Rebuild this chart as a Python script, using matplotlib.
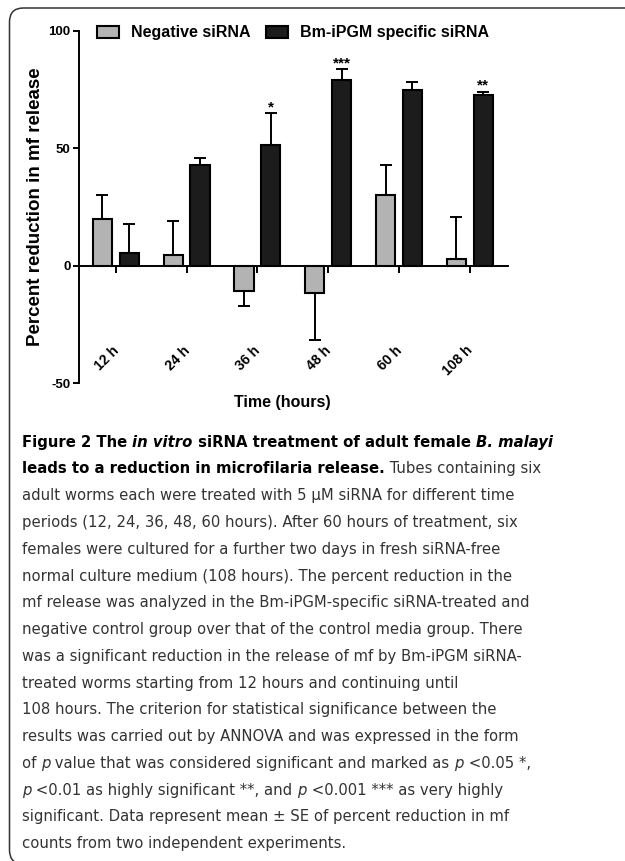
import matplotlib
matplotlib.use('Agg')
import matplotlib.pyplot as plt
from matplotlib import font_manager
from matplotlib.font_manager import FontProperties
from matplotlib.textpath import TextPath
from matplotlib.patches import Patch, FancyBboxPatch
from matplotlib.transforms import IdentityTransform

times = ['12 h', '24 h', '36 h', '48 h', '60 h', '108 h']
negative = [20, 4.5, -11, -11.5, 30, 3]
negative_err = [10, 14.5, 6, 20.3, 12.8, 17.8]
specific = [5.3, 42.9, 51.6, 79.2, 74.9, 72.6]
specific_err = [12.6, 3, 13.4, 4.7, 3.3, 1.6]
stars = ['', '', '*', '***', '', '**']

# caption lines: (text, weight, style)
B, R = 'bold', 'normal'
caption = [
    [('Figure 2 The ', B, R), ('in vitro', B, 'italic'), (' siRNA treatment of adult female ', B, R), ('B. malayi', B, 'italic')],
    [('leads to a reduction in microfilaria release.', B, R), (' Tubes containing six', R, R)],
    [('adult worms each were treated with 5 \u03bcM siRNA for different time', R, R)],
    [('periods (12, 24, 36, 48, 60 hours). After 60 hours of treatment, six', R, R)],
    [('females were cultured for a further two days in fresh siRNA-free', R, R)],
    [('normal culture medium (108 hours). The percent reduction in the', R, R)],
    [('mf release was analyzed in the Bm-iPGM-specific siRNA-treated and', R, R)],
    [('negative control group over that of the control media group. There', R, R)],
    [('was a significant reduction in the release of mf by Bm-iPGM siRNA-', R, R)],
    [('treated worms starting from 12 hours and continuing until', R, R)],
    [('108 hours. The criterion for statistical significance between the', R, R)],
    [('results was carried out by ANNOVA and was expressed in the form', R, R)],
    [('of ', R, R), ('p', R, 'italic'), (' value that was considered significant and marked as ', R, R), ('p', R, 'italic'), (' <0.05 *,', R, R)],
    [('p', R, 'italic'), (' <0.01 as highly significant **, and ', R, R), ('p', R, 'italic'), (' <0.001 *** as very highly', R, R)],
    [('significant. Data represent mean \u00b1 SE of percent reduction in mf', R, R)],
    [('counts from two independent experiments.', R, R)],
]

W, H = 625, 861
plt.rcParams['font.family'] = ['Liberation Sans', 'DejaVu Sans']
plt.rcParams['axes.unicode_minus'] = False
fig = plt.figure(figsize=(W / 100, H / 100), dpi=100)

# axes placed in pixels
left, right, top, bottom = 79, 508, 31, 383
ax = fig.add_axes([left / W, 1 - bottom / H, (right - left) / W, (bottom - top) / H])

x = list(range(len(times)))
bw = 0.27
off = 0.19
grey = '#b3b3b3'
dark = '#1c1c1c'

ax.bar([i - off for i in x], negative, bw, color=grey, edgecolor='black', linewidth=1.5, zorder=2)
ax.bar([i + off for i in x], specific, bw, color=dark, edgecolor='black', linewidth=1.5, zorder=2)

def one_sided(vals, errs):
    lo = [e if v < 0 else 0 for v, e in zip(vals, errs)]
    hi = [0 if v < 0 else e for v, e in zip(vals, errs)]
    return [lo, hi]

ax.errorbar([i - off for i in x], negative, yerr=one_sided(negative, negative_err), fmt='none',
            ecolor='black', elinewidth=1.4, capsize=4.3, capthick=1.4, zorder=1)
ax.errorbar([i + off for i in x], specific, yerr=one_sided(specific, specific_err), fmt='none',
            ecolor='black', elinewidth=1.4, capsize=4.3, capthick=1.4, zorder=1)

for i, s in enumerate(stars):
    if s:
        ax.annotate(s, (i + off, specific[i] + specific_err[i]), xytext=(0, -1),
                    textcoords='offset points', ha='center', va='bottom',
                    fontsize=11, fontweight='bold')

ax.set_xlim(-0.52, 5.54)
ax.set_ylim(-50, 100)
ax.set_yticks([-50, 0, 50, 100])
ax.spines['top'].set_visible(False)
ax.spines['right'].set_visible(False)
ax.spines['bottom'].set_position(('data', 0))
for sp in ['left', 'bottom']:
    ax.spines[sp].set_linewidth(1.4)
ax.tick_params(axis='y', length=4.5, width=1.4, pad=1.5, labelsize=9.5)
ax.tick_params(axis='x', length=5, width=1.4, labelbottom=False)
ax.set_xticks(x)
for lab in ax.get_yticklabels():
    lab.set_fontweight('bold')

for i, t in enumerate(times):
    ax.text(i + 0.08, -33, t, rotation=45, ha='right', va='top',
            fontsize=10, fontweight='bold')

ax.set_ylabel('Percent reduction in mf release', fontsize=13.5, fontweight='bold')
ax.yaxis.set_label_coords(-0.082, 0.5)
ax.set_xlabel('Time (hours)', fontsize=11.5, fontweight='bold')
ax.xaxis.set_label_coords(0.473, -0.033)

handles = [Patch(facecolor=grey, edgecolor='black', linewidth=1.5),
           Patch(facecolor=dark, edgecolor='black', linewidth=1.5)]
fig.legend(handles, ['Negative siRNA', 'Bm-iPGM specific siRNA'], loc='center left',
           bbox_to_anchor=(97 / W, 1 - 33 / H), ncol=2, frameon=False, borderpad=0,
           borderaxespad=0, handlelength=1.35, handleheight=0.75, handletextpad=0.75,
           columnspacing=1.0, prop={'weight': 'bold', 'size': 11.5})

# border of the figure panel
box = FancyBboxPatch((9.5, -3), 700, H - 8 + 3, boxstyle='round,pad=0,rounding_size=14',
                     facecolor='none', edgecolor='#333333', linewidth=1.1,
                     transform=IdentityTransform())
fig.patches.append(box)

# caption font: narrowest available sans relative to its x-height
fonts = font_manager.fontManager.ttflist
names = {f.name for f in fonts}
cands = []
for fam in ['Liberation Sans Narrow', 'Roboto', 'Lato', 'Liberation Sans', 'Noto Sans']:
    if fam in names:
        cands.append(FontProperties(family=fam))
if any(f.name == 'DejaVu Sans' and f.stretch == 'condensed' for f in fonts):
    cands.append(FontProperties(family='DejaVu Sans', stretch='condensed'))

sample = caption[2][0][0]
def ratio(fp):
    w = TextPath((0, 0), sample, size=10, prop=fp).get_extents().width
    xh = TextPath((0, 0), 'x', size=10, prop=fp).get_extents().height
    return w / xh, xh / 10
scores = [(ratio(fp), fp) for fp in cands]
(best_ratio, xh_em), cap_fp = min(scores, key=lambda s: s[0][0])

renderer = fig.canvas.get_renderer()

def seg_width(text, weight, style, size):
    kw = dict(family=cap_fp.get_family(), stretch=cap_fp.get_stretch(),
              weight=weight, style=style, size=size)
    t1 = fig.text(0, 0, '|' + text + '|', **kw)
    t2 = fig.text(0, 0, '||', **kw)
    w = t1.get_window_extent(renderer).width - t2.get_window_extent(renderer).width
    t1.remove()
    t2.remove()
    return w

# size: x-height of about 9 px, but keep line width near the reference
size_h = 9 / xh_em * 0.72
base = 14
size_w = base * 505 / seg_width(sample, R, R, base)
size = min(size_h, size_w)

x0, y0, dy = 22, 446.7, 26.77
for n, line in enumerate(caption):
    xp = x0
    yp = y0 + n * dy
    for text, weight, style in line:
        col = 'black' if weight == B else '#333333'
        fig.text(xp / W, 1 - yp / H, text, family=cap_fp.get_family(),
                 stretch=cap_fp.get_stretch(), weight=weight, style=style,
                 size=size, color=col, va='baseline', ha='left')
        xp += seg_width(text, weight, style, size)

fig.savefig('out.png', dpi=100)
